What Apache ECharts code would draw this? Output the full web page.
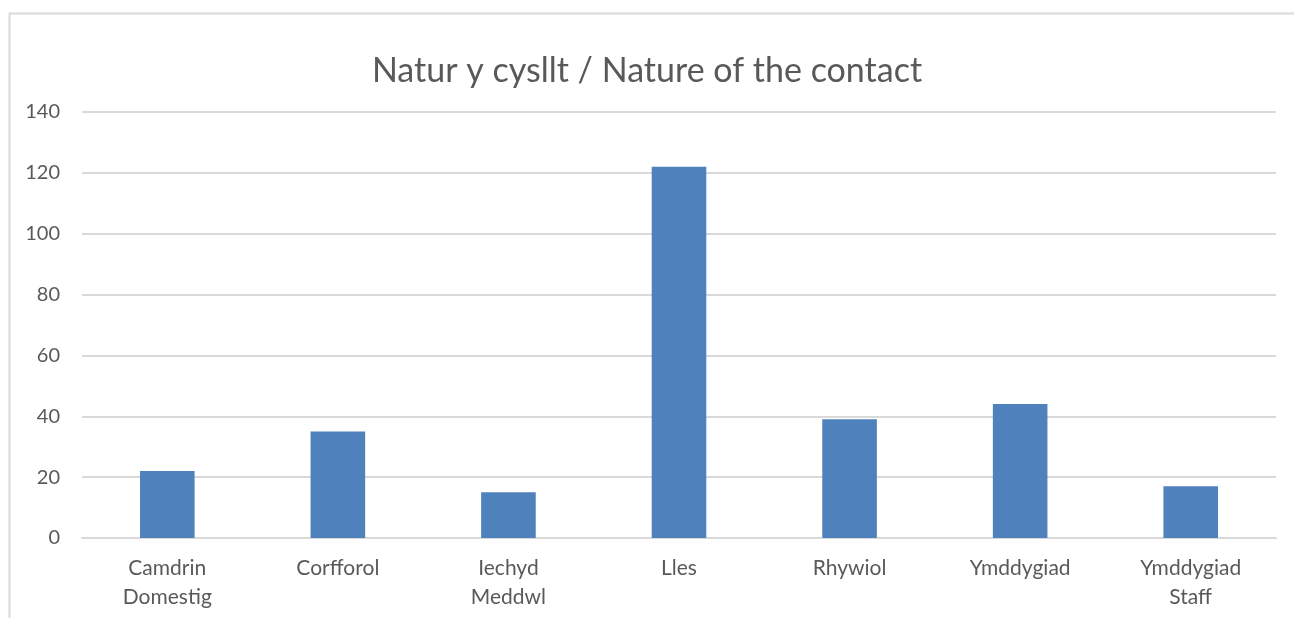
<!DOCTYPE html>
<html>
<head>
<meta charset="utf-8">
<script src="https://cdn.jsdelivr.net/npm/echarts@6/dist/echarts.min.js"></script>
<style>
	html, body { margin: 0; padding: 0; background: #fff; }
	#plot { width: 1294px; height: 618px; }
</style>
</head>
<body>
<div id="plot"></div>
<script>
const titleText = 'Natur y cysllt / Nature of the contact';
const categories = ['Camdrin\nDomestig', 'Corfforol', 'Iechyd\nMeddwl', 'Lles', 'Rhywiol', 'Ymddygiad', 'Ymddygiad\nStaff'];
const counts = [22, 35, 15, 122, 39, 44, 17];
const yTicks = { min: 0, max: 140, interval: 20 };

function plot() {
	const textColor = '#595959';
	const font = 'Lato, "Noto Sans", sans-serif';
	const option = {
		animation: false,
		backgroundColor: '#fff',
		textStyle: { fontFamily: font },
		title: {
			text: titleText,
			left: 'center',
			top: 49,
			textStyle: {
				color: textColor,
				fontSize: 34,
				fontWeight: 'normal',
				fontFamily: font
			}
		},
		graphic: [
			{
				type: 'rect',
				shape: { x: 9.5, y: 13.5, width: 1400, height: 700 },
				style: { fill: 'none', stroke: '#d9d9d9', lineWidth: 2 },
				silent: true,
				z: -1
			}
		],
		grid: { left: 82, right: 18, top: 112, bottom: 80 },
		xAxis: {
			type: 'category',
			data: categories,
			axisLine: { show: true, lineStyle: { color: '#d9d9d9', width: 2 } },
			axisTick: { show: false },
			axisLabel: {
				color: textColor,
				fontSize: 21,
				lineHeight: 29,
				margin: 16,
				interval: 0
			}
		},
		yAxis: {
			type: 'value',
			min: yTicks.min,
			max: yTicks.max,
			interval: yTicks.interval,
			axisLine: { show: false },
			axisTick: { show: false },
			axisLabel: { color: textColor, fontSize: 20, margin: 22 },
			splitLine: { lineStyle: { color: '#d9d9d9', width: 2 } }
		},
		series: [
			{
				type: 'bar',
				data: counts,
				barWidth: '32%',
				itemStyle: { color: '#4f81bd' }
			}
		]
	};
	const box = document.getElementById('plot');
	const chart = echarts.init(box);
	chart.setOption(option);
	window.addEventListener('resize', () => {
		chart.resize();
	});
}

window.addEventListener('load', () => {
	plot();
});
</script>
</body>
</html>
